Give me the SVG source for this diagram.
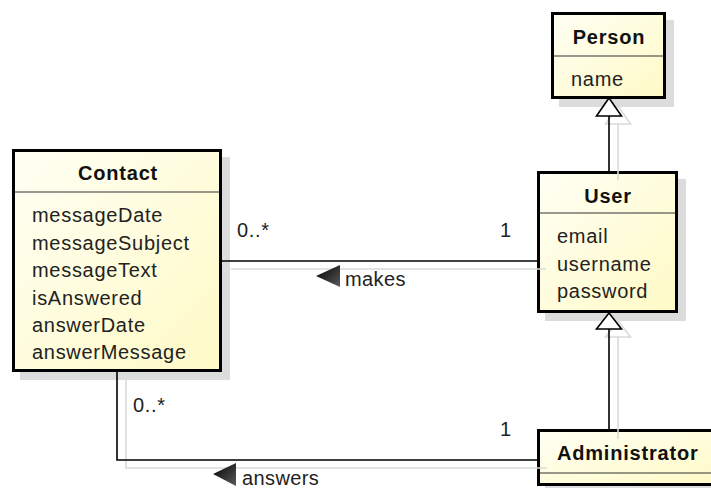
<svg xmlns="http://www.w3.org/2000/svg" width="711" height="488" viewBox="0 0 711 488">
  <defs>
    <linearGradient id="classFill" x1="0" y1="0" x2="1" y2="1">
      <stop offset="0" stop-color="#fffff4"/>
      <stop offset="1" stop-color="#fffac6"/>
    </linearGradient>
    <linearGradient id="dirFill" x1="0" y1="0" x2="1" y2="1">
      <stop offset="0" stop-color="#000"/>
      <stop offset="1" stop-color="#5a5a5a"/>
    </linearGradient>
    <style>
      .shadow { fill: #dcdcdc; }
      .box { fill: url(#classFill); stroke: #000; stroke-width: 3; }
      .sep { stroke: #333; stroke-width: 1.2; }
      .title { font-family: "Liberation Sans", Arial, sans-serif; font-size: 20px; font-weight: bold; letter-spacing: 0.8px; fill: #111; text-anchor: middle; }
      .attr { font-family: "Liberation Sans", Arial, sans-serif; font-size: 20px; letter-spacing: 0.7px; fill: #222; }
      .line { fill: none; stroke: #000; stroke-width: 1.6; }
      .lshadow { fill: none; stroke: #dadada; stroke-width: 1.6; }
      .gen { fill: #fff; stroke: #000; stroke-width: 1.6; stroke-linejoin: miter; }
      .genShadow { fill: #fff; stroke: #dadada; stroke-width: 1.6; }
      .dir { fill: url(#dirFill); }
    </style>
  </defs>

  <rect width="711" height="488" fill="#fff"/>

  <!-- box shadows -->
  <g id="shadows">
    <rect class="shadow" x="559" y="20" width="115" height="87"/>
    <rect class="shadow" x="20" y="157" width="210" height="223"/>
    <rect class="shadow" x="545" y="179" width="141" height="142"/>
    <rect class="shadow" x="545" y="437" width="180" height="60"/>
  </g>

  <!-- classes -->
  <g id="person">
    <rect class="box" x="552.5" y="13.5" width="112" height="84"/>
    <line class="sep" x1="554" y1="56" x2="663" y2="56"/>
    <text class="title" x="609" y="44">Person</text>
    <text class="attr" x="571" y="86">name</text>
  </g>

  <g id="contact">
    <rect class="box" x="13.5" y="150.5" width="207" height="220"/>
    <line class="sep" x1="15" y1="192" x2="219" y2="192"/>
    <text class="title" x="118" y="180">Contact</text>
    <text class="attr" x="32" y="222">messageDate</text>
    <text class="attr" x="32" y="250">messageSubject</text>
    <text class="attr" x="32" y="277">messageText</text>
    <text class="attr" x="32" y="305">isAnswered</text>
    <text class="attr" x="32" y="332">answerDate</text>
    <text class="attr" x="32" y="359">answerMessage</text>
  </g>

  <g id="user">
    <rect class="box" x="538.5" y="172.5" width="138" height="139"/>
    <line class="sep" x1="540" y1="213" x2="675" y2="213"/>
    <text class="title" x="608" y="203">User</text>
    <text class="attr" x="557" y="243">email</text>
    <text class="attr" x="557" y="271">username</text>
    <text class="attr" x="557" y="298">password</text>
  </g>

  <g id="administrator">
    <rect class="box" x="538.5" y="430.5" width="180" height="54"/>
    <line class="sep" x1="540" y1="473" x2="711" y2="473"/>
    <text class="attr" x="557" y="460" style="font-weight:bold;fill:#111;letter-spacing:0.8px">Administrator</text>
  </g>

  <!-- connectors -->
  <g id="connectors">
    <!-- shadows -->
    <line class="lshadow" x1="618" y1="124" x2="618" y2="180"/>
    <polygon class="genShadow" points="618,106 630.5,124 605.5,124"/>
    <line class="lshadow" x1="618" y1="337" x2="618" y2="439"/>
    <polygon class="genShadow" points="618,321 630.5,337 605.5,337"/>
    <polyline class="lshadow" points="231,269 546,269"/>
    <polyline class="lshadow" points="126,380 126,468 547,468"/>

    <!-- Person <- User generalization -->
    <line class="line" x1="609" y1="116" x2="609" y2="171"/>
    <polygon class="gen" points="609,98 621.5,116 596.5,116"/>

    <!-- User <- Administrator generalization -->
    <line class="line" x1="609" y1="329" x2="609" y2="429"/>
    <polygon class="gen" points="609,313 621.5,329 596.5,329"/>

    <!-- makes association -->
    <line class="line" x1="222" y1="261" x2="537" y2="261"/>
    <text class="attr" x="237" y="237">0..*</text>
    <text class="attr" x="500" y="237">1</text>
    <polygon class="dir" points="316,276 340,265 340,287"/>
    <text class="attr" x="345" y="286" style="letter-spacing:0.4px">makes</text>

    <!-- answers association -->
    <polyline class="line" points="117,372 117,460 537,460"/>
    <text class="attr" x="133" y="412">0..*</text>
    <text class="attr" x="500" y="436">1</text>
    <polygon class="dir" points="213,474 236,463 236,486"/>
    <text class="attr" x="242" y="485" style="letter-spacing:0.4px">answers</text>
  </g>
</svg>
